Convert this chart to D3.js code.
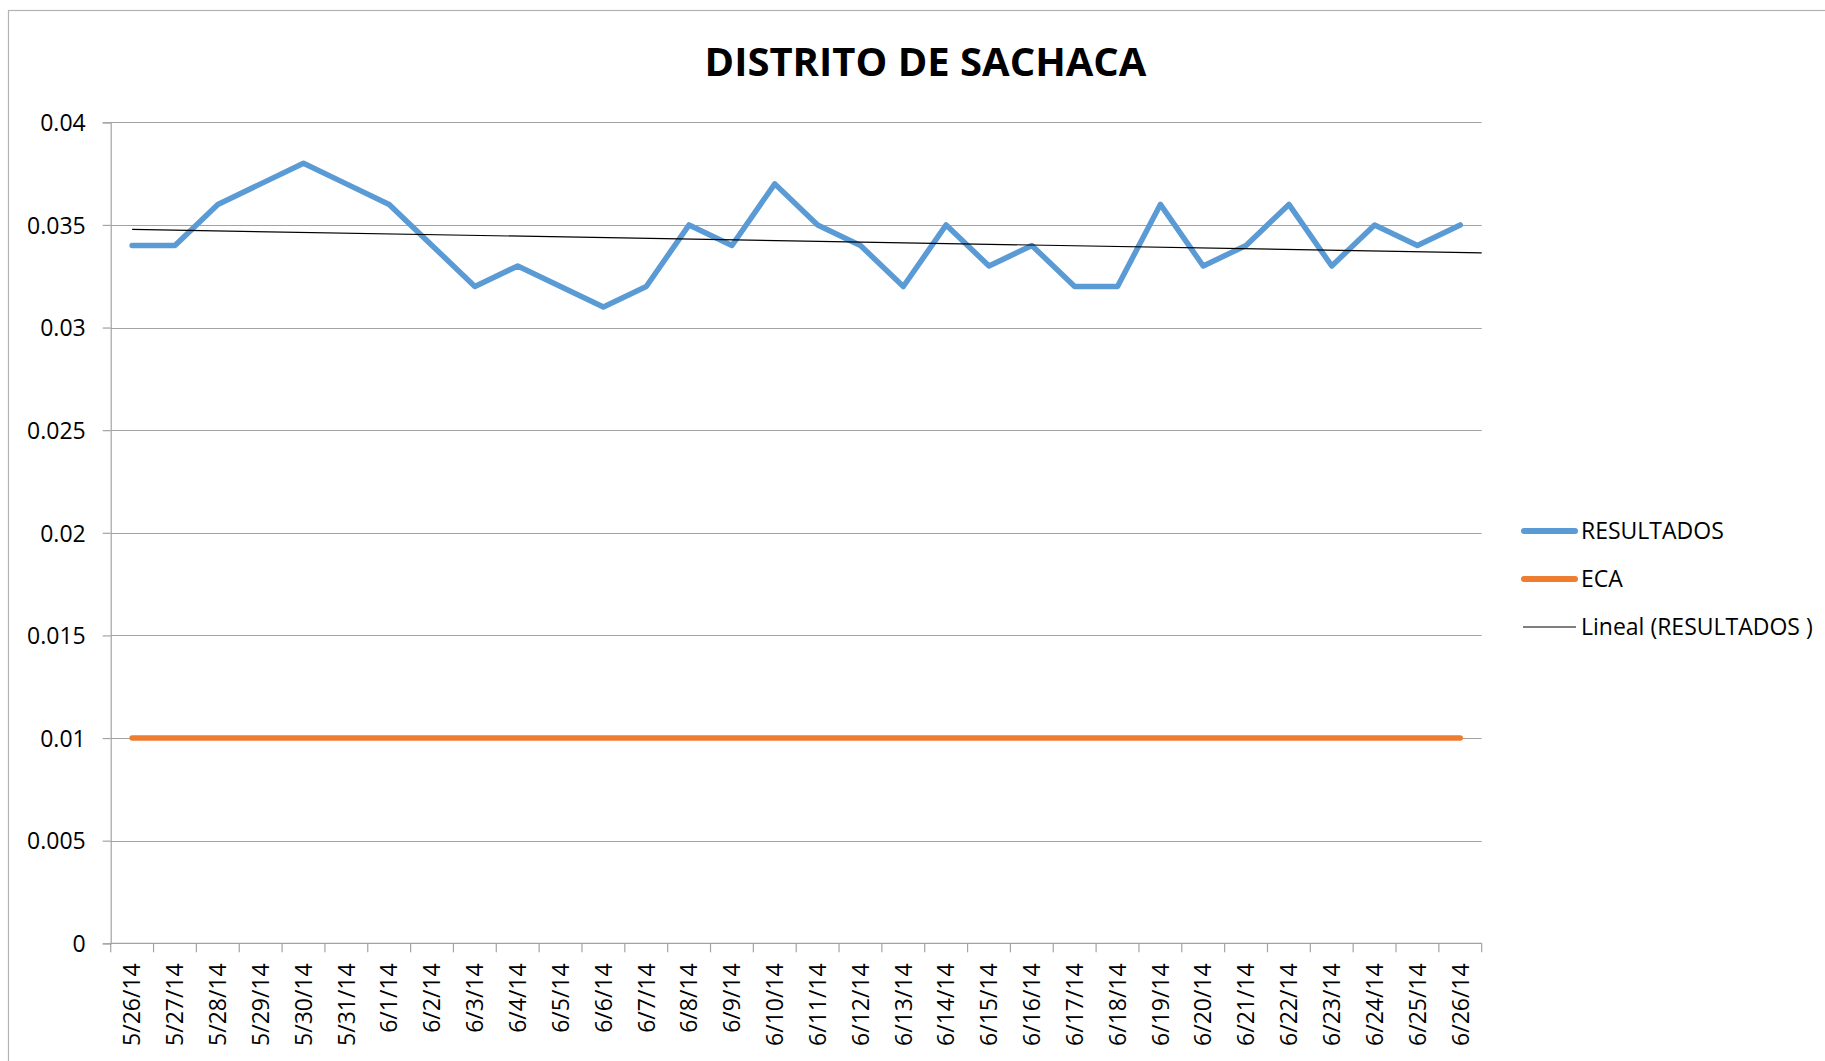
<!DOCTYPE html>
<html>
<head>
<meta charset="utf-8">
<script src="https://cdn.jsdelivr.net/npm/d3@7"></script>
<style>
  body { margin: 0; background: #fff; }
  svg text { font-family: "Open Sans", "Noto Sans", sans-serif; fill: #000; }
</style>
</head>
<body>
<svg id="chart" width="1825" height="1061"></svg>
<script>
// fechas de muestreo
const dates = ["5/26/14", "5/27/14", "5/28/14", "5/29/14", "5/30/14", "5/31/14",
  "6/1/14", "6/2/14", "6/3/14", "6/4/14", "6/5/14", "6/6/14", "6/7/14", "6/8/14",
  "6/9/14", "6/10/14", "6/11/14", "6/12/14", "6/13/14", "6/14/14", "6/15/14",
  "6/16/14", "6/17/14", "6/18/14", "6/19/14", "6/20/14", "6/21/14", "6/22/14",
  "6/23/14", "6/24/14", "6/25/14", "6/26/14"];
const resultados = [0.034, 0.034, 0.036, 0.037, 0.038, 0.037, 0.036, 0.034, 0.032,
  0.033, 0.032, 0.031, 0.032, 0.035, 0.034, 0.037, 0.035, 0.034, 0.032, 0.035,
  0.033, 0.034, 0.032, 0.032, 0.036, 0.033, 0.034, 0.036, 0.033, 0.035, 0.034, 0.035];
const eca = [0.01, 0.01, 0.01, 0.01, 0.01, 0.01, 0.01, 0.01, 0.01, 0.01, 0.01,
  0.01, 0.01, 0.01, 0.01, 0.01, 0.01, 0.01, 0.01, 0.01, 0.01, 0.01, 0.01, 0.01,
  0.01, 0.01, 0.01, 0.01, 0.01, 0.01, 0.01, 0.01];
const yTicks = [0, 0.005, 0.01, 0.015, 0.02, 0.025, 0.03, 0.035, 0.04];
const yTickLabels = ["0", "0.005", "0.01", "0.015", "0.02", "0.025", "0.03", "0.035", "0.04"];
const legendNames = ["RESULTADOS", "ECA", "Lineal (RESULTADOS )"];

const svg = d3.select("#chart");
const pLeft = 110.7, pRight = 1481.7, pTop = 122.3, pBottom = 943.3;
const grey = "#a3a3a3";

// marco exterior
svg.append("rect")
    .attr("x", 8.5).attr("y", 10.5)
    .attr("width", 1900).attr("height", 1100)
    .attr("fill", "none").attr("stroke", "#b3b3b3").attr("stroke-width", 1.2);

let x = d3.scaleBand().domain(dates).range([pLeft, pRight]);
let y = d3.scaleLinear().domain([0, 0.04]).range([pBottom, pTop]);
let cx = d => x(d) + x.bandwidth() / 2;

// titulo
svg.append("text")
    .attr("x", 925.5).attr("y", 76)
    .attr("text-anchor", "middle")
    .style("font-size", "40px").style("font-weight", "bold")
    .text("DISTRITO DE SACHACA");

// lineas de cuadricula
svg.append("g").selectAll("line")
    .data(yTicks.slice(1))
    .enter().append("line")
    .attr("x1", pLeft).attr("x2", pRight)
    .attr("y1", d => Math.round(y(d)) + 0.5).attr("y2", d => Math.round(y(d)) + 0.5)
    .attr("stroke", grey).attr("stroke-width", 1.2);

// eje y
let yAxis = svg.append("g")
    .attr("transform", "translate(" + pLeft + ",0)")
    .call(d3.axisLeft(y).tickValues(yTicks).tickSize(8).tickPadding(17)
          .tickFormat((d, i) => yTickLabels[i]));
yAxis.selectAll("line").attr("stroke", grey).attr("stroke-width", 1.2);
yAxis.select(".domain").attr("stroke", grey).attr("stroke-width", 1.2);
yAxis.selectAll("text").style("font-size", "23px").attr("dy", "0.36em");

// eje x: etiquetas
let xAxis = svg.append("g")
    .attr("transform", "translate(0," + pBottom + ")")
    .call(d3.axisBottom(x).tickSize(0).tickPadding(0));
xAxis.select(".domain").remove();
xAxis.selectAll("text")
    .style("font-size", "23px")
    .attr("text-anchor", "end")
    .attr("transform", "translate(0,20) rotate(-90)")
    .attr("x", 0).attr("y", 0).attr("dy", "0.36em");

// eje x: linea y marcas en los limites de categoria
svg.append("line")
    .attr("x1", pLeft).attr("x2", pRight)
    .attr("y1", pBottom).attr("y2", pBottom)
    .attr("stroke", grey).attr("stroke-width", 1.2);
svg.append("g").selectAll("line")
    .data(dates.concat(["end"]))
    .enter().append("line")
    .attr("x1", d => d === "end" ? pRight : x(d))
    .attr("x2", d => d === "end" ? pRight : x(d))
    .attr("y1", pBottom).attr("y2", pBottom + 9)
    .attr("stroke", grey).attr("stroke-width", 1.2);

// series
let line = d3.line().x((d, i) => cx(dates[i])).y(d => y(d));

svg.append("path")
    .datum(eca)
    .attr("d", line)
    .attr("fill", "none").attr("stroke", "#ED7D31")
    .attr("stroke-width", 5.5).attr("stroke-linecap", "round");

svg.append("path")
    .datum(resultados)
    .attr("d", line)
    .attr("fill", "none").attr("stroke", "#5B9BD5")
    .attr("stroke-width", 5.5).attr("stroke-linejoin", "round").attr("stroke-linecap", "round");

// linea de tendencia (minimos cuadrados sobre resultados)
let mx = d3.mean(resultados, (d, i) => i);
let my = d3.mean(resultados);
let sxy = d3.sum(resultados, (d, i) => (i - mx) * (d - my));
let sxx = d3.sum(resultados, (d, i) => (i - mx) * (i - mx));
let slope = sxy / sxx, icpt = my - slope * mx;
let step = x.step();
let x0 = cx(dates[0]);
svg.append("line")
    .attr("x1", x0).attr("y1", y(icpt))
    .attr("x2", pRight).attr("y2", y(icpt + slope * ((pRight - x0) / step)))
    .attr("stroke", "#000").attr("stroke-width", 1.2);

// leyenda
let legendY = [531, 579, 627];
let legendColor = ["#5B9BD5", "#ED7D31", "#000"];
let leg = svg.append("g");
legendNames.forEach(function(name, i) {
    let thick = i < 2;
    leg.append("line")
        .attr("x1", thick ? 1524 : 1523).attr("x2", thick ? 1575 : 1576)
        .attr("y1", legendY[i]).attr("y2", legendY[i])
        .attr("stroke", legendColor[i])
        .attr("stroke-width", thick ? 6 : 1.2)
        .attr("stroke-linecap", thick ? "round" : "butt");
    leg.append("text")
        .attr("x", 1581).attr("y", legendY[i])
        .attr("dy", "0.36em")
        .style("font-size", "23px")
        .text(name);
});
</script>
</body>
</html>
